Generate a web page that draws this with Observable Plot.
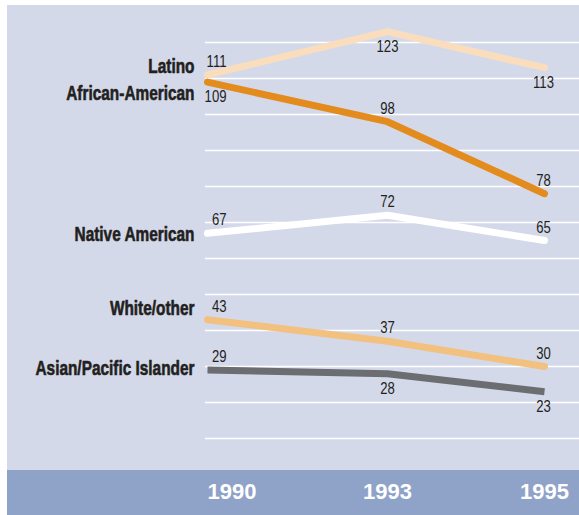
<!DOCTYPE html>
<html>
<head>
<meta charset="utf-8">
<script src="https://cdn.jsdelivr.net/npm/d3@7"></script>
<script src="https://cdn.jsdelivr.net/npm/@observablehq/plot@0.6"></script>
<style>
  html, body { margin: 0; padding: 0; background: #ffffff; }
  #wrap { padding: 5px 0 0 7px; width: 572px; }
</style>
</head>
<body>
<div id="wrap"></div>
<script>
// ---- data ----
const years = [1990, 1993, 1995];
const groups = ["Latino", "African-American", "Native American", "White/other", "Asian/Pacific Islander"];
const latino = [111, 123, 113];
const africanAmerican = [109, 98, 78];
const nativeAmerican = [67, 72, 65];
const whiteOther = [43, 37, 30];
const asianPacific = [29, 28, 23];
const gridValues = [10, 20, 30, 40, 50, 60, 70, 80, 90, 100, 110, 120];
// which side of the line each value label sits on
const latinoSide = ["above", "below", "below"];
const africanSide = ["below", "above", "above"];
const nativeSide = ["above", "above", "above"];
const whiteSide = ["above", "above", "above"];
const asianSide = ["above", "below", "below"];

// ---- style config ----
const colors = ["#f9ddbd", "#e38b1c", "#ffffff", "#f2c17f", "#6c6d71"];
const labelNudge = {"Latino": -8, "African-American": 11, "Native American": 1, "White/other": -11, "Asian/Pacific Islander": -2};

const seriesValues = [latino, africanAmerican, nativeAmerican, whiteOther, asianPacific];
const seriesSides = [latinoSide, africanSide, nativeSide, whiteSide, asianSide];
const rows = [];
groups.forEach((g, gi) => {
  years.forEach((yr, i) => {
    rows.push({group: g, year: yr, value: seriesValues[gi][i], side: seriesSides[gi][i]});
  });
});
const firstRows = rows.filter(d => d.year === 1990);

const narrowValue = "'Liberation Sans', Arimo, sans-serif";
const narrowLabel = "'Liberation Sans', Arimo, Helvetica, sans-serif";
const yearFont = "'Liberation Sans', Arial, sans-serif";
const ink = "#231f20";

const valueLabel = (yr, side, anchor, dx) => Plot.text(rows.filter(d => d.year === yr && d.side === side), {
  x: "year", y: "value", text: d => String(d.value),
  textAnchor: anchor, dx, dy: side === "above" ? -13 : 15,
  fill: ink, fontSize: 16, fontFamily: narrowValue
});

const marks = [
  Plot.ruleY(gridValues, {stroke: "#ffffff", strokeWidth: 1.7}),
  Plot.line(rows.filter(d => d.group !== "Asian/Pacific Islander"), {
    x: "year", y: "value", z: "group", stroke: "group",
    strokeWidth: 7, strokeLinecap: "round", strokeLinejoin: "round"
  }),
  Plot.line(rows.filter(d => d.group === "Asian/Pacific Islander"), {
    x: "year", y: "value", z: "group", stroke: "group",
    strokeWidth: 7, strokeLinecap: "butt", strokeLinejoin: "round"
  }),
  valueLabel(1990, "above", "end", 19),
  valueLabel(1990, "below", "end", 19),
  valueLabel(1993, "above", "middle", 0),
  valueLabel(1993, "below", "middle", 0),
  valueLabel(1995, "above", "middle", -1),
  valueLabel(1995, "below", "middle", -1),
  ...groups.map(g => Plot.text(firstRows.filter(d => d.group === g), {
    x: "year", y: "value", text: "group",
    textAnchor: "end", dx: -13, dy: labelNudge[g],
    fill: ink, stroke: ink, strokeWidth: 0.6,
    fontSize: 20, fontWeight: "bold", fontFamily: narrowLabel
  })),
  Plot.text(years.filter(y => y === 1990), {
    x: d => d, text: d => String(d), frameAnchor: "bottom", dy: 24,
    textAnchor: "start", fill: "#ffffff", fontSize: 22, fontWeight: "bold",
    fontFamily: yearFont
  }),
  Plot.text(years.filter(y => y !== 1990), {
    x: d => d, text: d => String(d), frameAnchor: "bottom", dy: 24,
    textAnchor: "middle", fill: "#ffffff", fontSize: 22, fontWeight: "bold",
    fontFamily: yearFont
  })
];

const chart = Plot.plot({
  width: 572,
  height: 510,
  marginTop: 1,
  marginBottom: 41,
  marginLeft: 198,
  marginRight: 0,
  style: {
    background: "linear-gradient(to bottom, #d4d9ea 0px, #d4d9ea 465px, #8fa2c8 465px, #8fa2c8 100%)",
    overflow: "visible"
  },
  x: {type: "linear", domain: [1990, 1993, 1995], range: [200, 380, 537], axis: null},
  y: {domain: [0, 130], axis: null},
  color: {domain: groups, range: colors},
  marks
});

// condense the label glyphs horizontally (no narrow face is installed)
function condense(family, k) {
  chart.querySelectorAll("g").forEach(g => {
    if (g.getAttribute("font-family") !== family) return;
    g.querySelectorAll("text").forEach(t => {
      const tr = t.getAttribute("transform") || "";
      t.setAttribute("transform", tr + ` scale(${k},1)`);
    });
  });
}
condense(narrowValue, 0.82);
condense(narrowLabel, 0.77);

document.getElementById("wrap").appendChild(chart);
</script>
</body>
</html>
